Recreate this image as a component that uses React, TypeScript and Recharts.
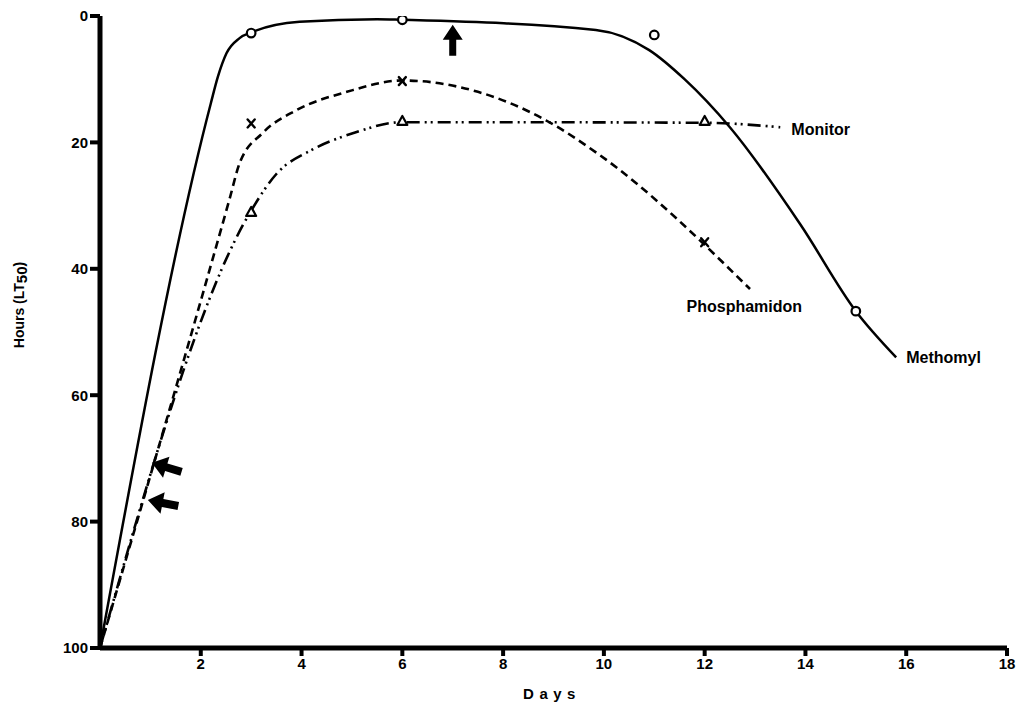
import React from 'react';
import { ComposedChart, Line, Scatter, XAxis, YAxis } from 'recharts';

// ---- data ----
const xTicks = [2, 4, 6, 8, 10, 12, 14, 16, 18];
const yTicks = [0, 20, 40, 60, 80, 100];

// smoothed hand-drawn curves
const methomylCurve = [
  { x: 0, y: 100 }, { x: 2.2, y: 13.8 }, { x: 2.34, y: 9.6 }, { x: 2.51, y: 5.9 },
  { x: 2.77, y: 3.5 }, { x: 3.03, y: 2.5 }, { x: 3.96, y: 0.9 }, { x: 5.5, y: 0.5 },
  { x: 6, y: 0.6 }, { x: 9.84, y: 2.2 }, { x: 10.9, y: 5.4 }, { x: 11.6, y: 10 },
  { x: 12.5, y: 17.6 }, { x: 13.9, y: 33 }, { x: 15.0, y: 46.7 }, { x: 15.8, y: 54 },
];
const phosphamidonCurve = [
  { x: 0, y: 100 }, { x: 2.57, y: 29 }, { x: 2.77, y: 23.3 }, { x: 3.23, y: 18.5 },
  { x: 3.9, y: 14.9 }, { x: 4.9, y: 12 }, { x: 6, y: 10.2 }, { x: 7.5, y: 12 },
  { x: 8.85, y: 16.5 }, { x: 9.9, y: 21.9 }, { x: 12.9, y: 43.2 },
];
const monitorCurve = [
  { x: 0, y: 100 }, { x: 2.97, y: 31.2 }, { x: 3.5, y: 25 }, { x: 4.2, y: 21.2 },
  { x: 5, y: 18.6 }, { x: 6, y: 16.8 }, { x: 7.5, y: 16.8 },
  { x: 12, y: 16.9 }, { x: 13.5, y: 17.6 },
];

// observed points
const methomylPoints = [{ x: 3, y: 2.7 }, { x: 6, y: 0.6 }, { x: 11, y: 3 }, { x: 15, y: 46.7 }];
const phosphamidonPoints = [{ x: 3, y: 17 }, { x: 6, y: 10.3 }, { x: 12, y: 35.8 }];
const monitorPoints = [{ x: 3, y: 31 }, { x: 6, y: 16.6 }, { x: 12, y: 16.6 }];

// annotations
const seriesLabels = [
  { x: 13.72, y: 18.0, text: 'Monitor' },
  { x: 11.64, y: 46.0, text: 'Phosphamidon' },
  { x: 16.0, y: 54.0, text: 'Methomyl' },
];
const upArrows = [{ x: 7, y: 1.4 }];
const leftArrows = [{ x: 1.03, y: 70.7 }, { x: 0.95, y: 76.6 }];
const leftArrowAngles = [17, 11];

const FONT = '"Liberation Sans", Arial, Helvetica, sans-serif';

const Circle = (p: any) => (
  <circle cx={p.cx} cy={p.cy} r={4.3} fill="#fff" stroke="#000" strokeWidth={2.2} />
);
const Cross = (p: any) => (
  <g stroke="#000" strokeWidth={2.4} strokeLinecap="round">
    <line x1={p.cx - 3.5} y1={p.cy - 4} x2={p.cx + 3.5} y2={p.cy + 4} />
    <line x1={p.cx + 3.5} y1={p.cy - 4} x2={p.cx - 3.5} y2={p.cy + 4} />
  </g>
);
const Triangle = (p: any) => (
  <polygon
    points={`${p.cx},${p.cy - 5} ${p.cx - 5},${p.cy + 4} ${p.cx + 5},${p.cy + 4}`}
    fill="#fff" stroke="#000" strokeWidth={2.2} strokeLinejoin="round"
  />
);
const LabelShape = (p: any) => (
  <text x={p.cx} y={p.cy} dominantBaseline="central" textAnchor="start"
    fontFamily={FONT} fontWeight={700} fontSize={16} fill="#000">
    {p.payload.text}
  </text>
);
const UpArrow = (p: any) => {
  const { cx, cy } = p;
  return (
    <polygon fill="#000"
      points={`${cx},${cy} ${cx - 10},${cy + 15} ${cx - 3.5},${cy + 15} ${cx - 3.5},${cy + 31} ${cx + 3.5},${cy + 31} ${cx + 3.5},${cy + 15} ${cx + 10},${cy + 15}`} />
  );
};
const LeftArrow = (p: any) => {
  const { cx, cy, index } = p;
  const a = leftArrowAngles[index] ?? 15;
  return (
    <polygon fill="#000" transform={`translate(${cx},${cy}) rotate(${a})`}
      points="0,0 15,-11 15,-4 31,-4 31,4 15,4 15,11" />
  );
};

const YLabel = () => (
  <text transform="translate(24,305) rotate(-90)" textAnchor="middle"
    fontFamily={FONT} fontWeight={700} fontSize={14} fill="#000">
    Hours (LT<tspan fontSize={15} dy={3}>50</tspan><tspan dy={-3}>)</tspan>
  </text>
);
const XLabel = () => (
  <text x={552} y={699} textAnchor="middle" fontFamily={FONT} fontWeight={700}
    fontSize={15} letterSpacing={5.5} fill="#000">
    Days
  </text>
);

const tickStyle = { fill: '#000', fontSize: 15, fontWeight: 700, fontFamily: FONT };

export default function App() {
  return (
    <div style={{ position: 'absolute', left: 0, top: 0, width: 1016, height: 707, background: '#fff' }}>
      <ComposedChart width={1016} height={707} margin={{ top: 16, right: 9, left: 40, bottom: 29 }}>
        <XAxis dataKey="x" type="number" domain={[0, 18]} ticks={xTicks} allowDataOverflow
          axisLine={{ stroke: '#000', strokeWidth: 5 }}
          tickLine={{ stroke: '#000', strokeWidth: 4 }} tickSize={8} tickMargin={2}
          tick={tickStyle} height={30} interval={0} label={<XLabel />} />
        <YAxis dataKey="y" type="number" domain={[0, 100]} reversed ticks={yTicks} allowDataOverflow
          axisLine={{ stroke: '#000', strokeWidth: 5 }}
          tickLine={{ stroke: '#000', strokeWidth: 4 }} tickSize={10} tickMargin={2}
          tick={tickStyle} width={60} interval={0} label={<YLabel />} />
        <Line data={methomylCurve} dataKey="y" type="monotone" stroke="#000" strokeWidth={2.5}
          dot={false} activeDot={false} isAnimationActive={false} />
        <Line data={phosphamidonCurve} dataKey="y" type="monotone" stroke="#000" strokeWidth={2.6}
          strokeDasharray="8 5" dot={false} activeDot={false} isAnimationActive={false} />
        <Line data={monitorCurve} dataKey="y" type="monotone" stroke="#000" strokeWidth={2.6}
          strokeDasharray="13 5 2 4 2 5" dot={false} activeDot={false} isAnimationActive={false} />
        <Scatter data={methomylPoints} dataKey="y" shape={<Circle />} isAnimationActive={false} />
        <Scatter data={phosphamidonPoints} dataKey="y" shape={<Cross />} isAnimationActive={false} />
        <Scatter data={monitorPoints} dataKey="y" shape={<Triangle />} isAnimationActive={false} />
        <Scatter data={seriesLabels} dataKey="y" shape={<LabelShape />} isAnimationActive={false} />
        <Scatter data={upArrows} dataKey="y" shape={<UpArrow />} isAnimationActive={false} />
        <Scatter data={leftArrows} dataKey="y" shape={(p: any) => <LeftArrow {...p} />} isAnimationActive={false} />
      </ComposedChart>
    </div>
  );
}
